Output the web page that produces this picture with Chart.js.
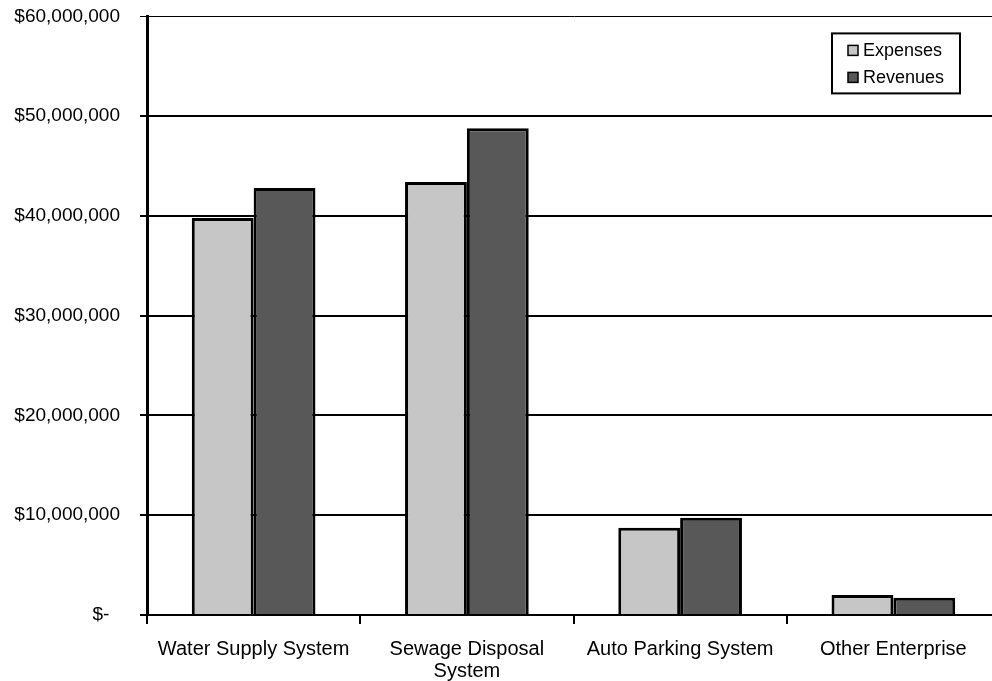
<!DOCTYPE html>
<html>
<head>
<meta charset="utf-8">
<script src="https://cdn.jsdelivr.net/npm/chart.js@4/dist/chart.umd.min.js"></script>
<style>
  html, body { margin: 0; padding: 0; background: #fff; overflow: hidden; }
  #wrap { position: absolute; left: 0; top: -15px; width: 1000px; height: 696px; }
</style>
</head>
<body>
<div id="wrap"><canvas id="enterpriseChart"></canvas></div>
<script>
'use strict';

// Dados do gráfico
const categories = ['Water Supply System', ['Sewage Disposal', 'System'], 'Auto Parking System', 'Other Enterprise'];
const expenses = [39800000, 43400000, 8750000, 2000000];
const revenues = [42800000, 48800000, 9750000, 1730000];
const yTicks = [0, 10000000, 20000000, 30000000, 40000000, 50000000, 60000000];

const font = 'Liberation Sans, Arial, Helvetica, sans-serif';

// Legenda desenhada dentro da área do gráfico
const boxLegend = {
    id: 'boxLegend',
    afterDraw(chart) {
        const c = chart.ctx;
        const area = chart.chartArea;
        const x = area.right - 168, y = area.top + 17, w = 128, h = 60;
        c.save();
        c.fillStyle = '#fff';
        c.fillRect(x, y, w, h);
        c.strokeStyle = '#000';
        c.lineWidth = 2;
        c.strokeRect(x, y, w, h);
        c.font = '18px ' + font;
        c.textBaseline = 'middle';
        chart.data.datasets.forEach((ds, i) => {
            const ry = y + 17 + i * 27;
            c.fillStyle = ds.backgroundColor;
            c.fillRect(x + 16, ry - 5, 10, 10);
            c.lineWidth = 1.5;
            c.strokeRect(x + 16, ry - 5, 10, 10);
            c.fillStyle = '#000';
            c.fillText(ds.label, x + 31, ry + 1);
        });
        c.restore();
    }
};

const ctx = document.getElementById('enterpriseChart').getContext('2d');

new Chart(ctx, {
    type: 'bar',
    data: {
        labels: categories,
        datasets: [{
            label: 'Expenses',
            data: expenses,
            backgroundColor: '#c6c6c6',
            borderColor: '#000',
            borderWidth: 3,
            borderSkipped: 'bottom'
        }, {
            label: 'Revenues',
            data: revenues,
            backgroundColor: '#585858',
            borderColor: '#000',
            borderWidth: 3,
            borderSkipped: 'bottom'
        }]
    },
    options: {
        responsive: true,
        maintainAspectRatio: false,
        animation: false,
        layout: { padding: { top: 2, right: 0, bottom: 0, left: 0 } },
        plugins: {
            legend: { display: false },
            tooltip: { enabled: false }
        },
        datasets: {
            bar: { categoryPercentage: 0.58, barPercentage: 1.0 }
        },
        scales: {
            x: {
                afterFit(scale) { scale.height = 66; },
                grid: {
                    offset: true,
                    drawOnChartArea: false,
                    drawTicks: true,
                    tickLength: 9,
                    color: '#000',
                    lineWidth: 2
                },
                border: { display: false },
                ticks: {
                    color: '#000',
                    padding: 14,
                    maxRotation: 0,
                    autoSkip: false,
                    font: { family: font, size: 20, lineHeight: 1.1 }
                }
            },
            y: {
                min: 0,
                max: 60000000,
                afterFit(scale) { scale.width = 147; },
                afterBuildTicks(scale) {
                    scale.ticks = yTicks.map(v => ({ value: v }));
                },
                grid: {
                    color: '#000',
                    lineWidth: ctx2 => (ctx2.tick && ctx2.tick.value === 60000000 ? 1 : 2),
                    drawTicks: true,
                    tickLength: 7
                },
                border: { display: true, color: '#000', width: 3 },
                ticks: {
                    color: '#000',
                    padding: 20,
                    font: { family: font, size: 19 },
                    callback: v => (v === 0 ? '$-  ' : '$' + v.toLocaleString('en-US'))
                }
            }
        }
    },
    plugins: [boxLegend]
});
</script>
</body>
</html>
